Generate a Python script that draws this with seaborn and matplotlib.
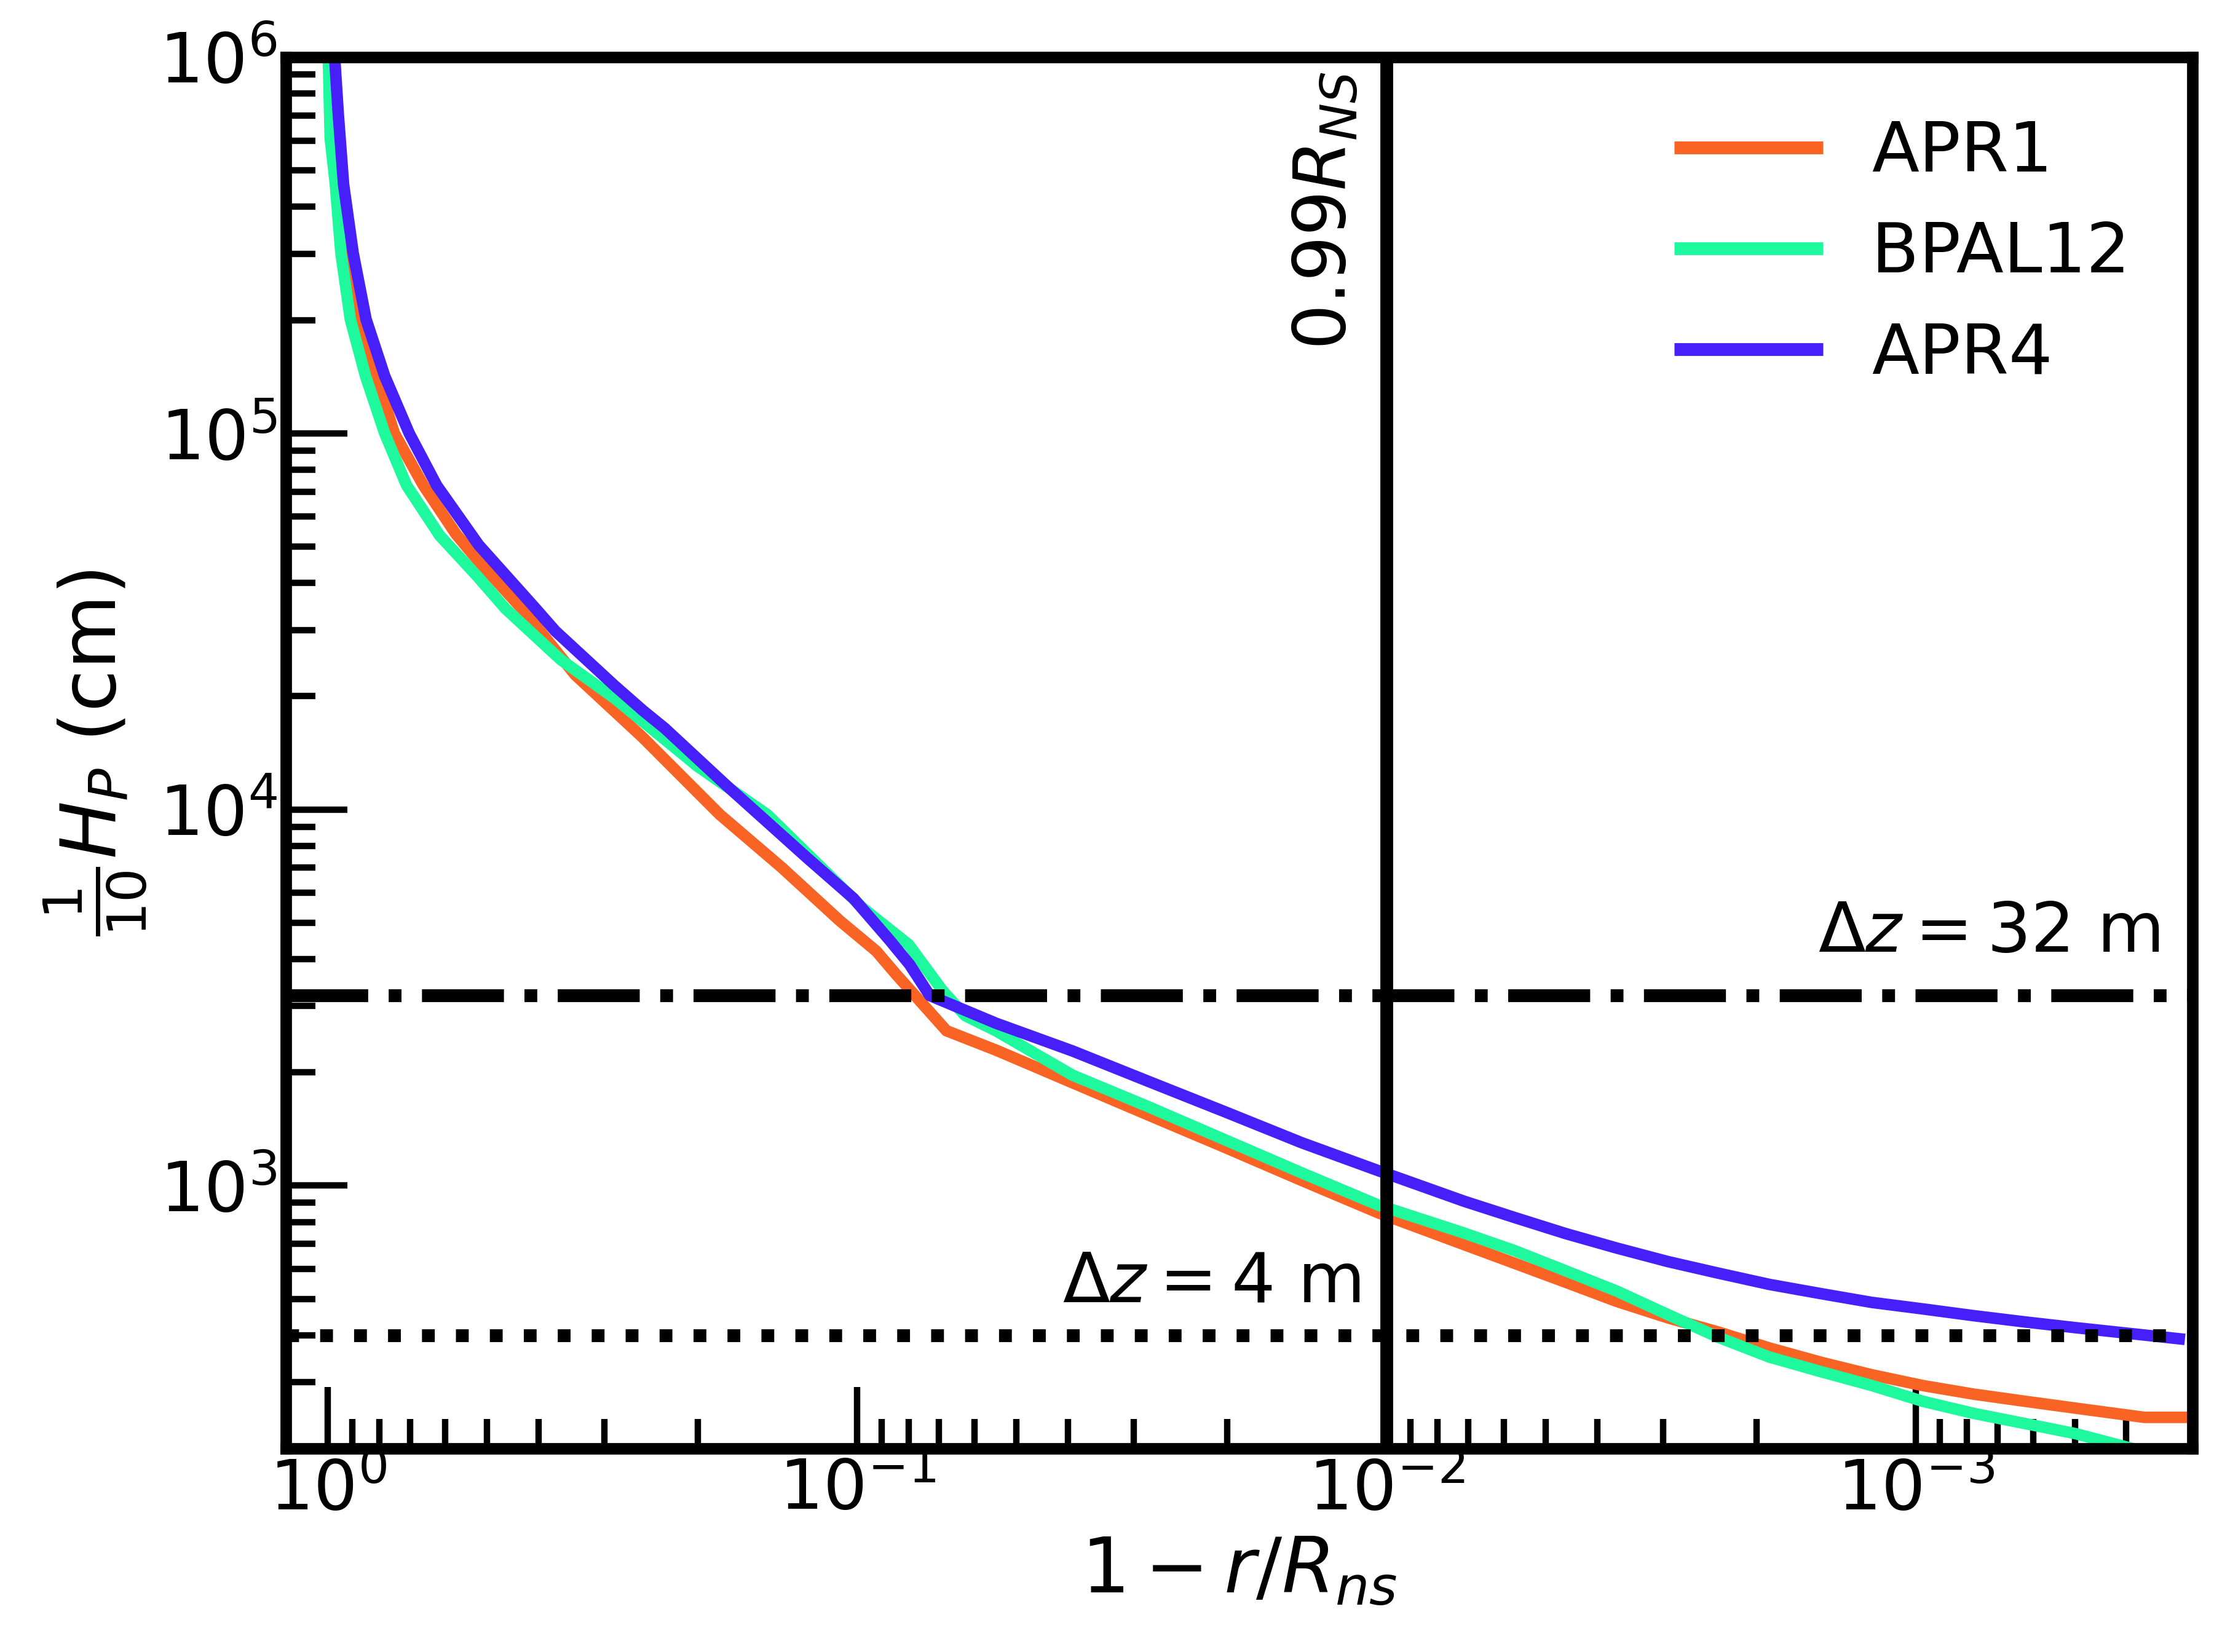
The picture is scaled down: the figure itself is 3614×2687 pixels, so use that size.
import numpy as np
import pandas as pd
import matplotlib
matplotlib.use("Agg")
import matplotlib.pyplot as plt
import seaborn as sns

# values (x = 1 - r/R_ns, y = H_P/10 in cm)
apr1_x = [0.984, 0.952, 0.92, 0.875, 0.81, 0.749, 0.66, 0.573, 0.519, 0.43,
          0.341, 0.2537, 0.1816, 0.1387, 0.1077, 0.092, 0.0845, 0.0678, 0.0546,
          0.0392, 0.0281, 0.0201, 0.01446, 0.01035, 0.00714, 0.00572, 0.00458,
          0.00367, 0.00294, 0.00236, 0.00189, 0.00151, 0.00121, 0.00097,
          0.000778, 0.000622, 0.000499, 0.00037, 0.0003]
apr1_y = [1.0e6, 4.59e5, 3.02e5, 2.01e5, 1.42e5, 1.0e5, 7.27e4, 5.4e4, 4.57e4, 3.42e4,
          2.28e4, 1.55e4, 9.68e3, 7.0e3, 5.05e3, 4.2e3, 3.65e3, 2.58e3, 2.29e3,
          1877, 1538, 1260, 1032, 846, 697, 621, 553,
          492, 445, 408, 370, 339, 314, 294,
          279, 267, 256, 242, 242]

bpal12_x = [0.998, 0.99, 0.968, 0.945, 0.907, 0.849, 0.781, 0.710, 0.615, 0.519,
            0.462, 0.363, 0.288, 0.200, 0.148, 0.0976, 0.0799, 0.069, 0.0625,
            0.0546, 0.0392, 0.0281, 0.0201, 0.01446, 0.01035, 0.00714, 0.00572,
            0.00458, 0.00367, 0.00294, 0.00236, 0.00189, 0.00151, 0.00121,
            0.00097, 0.000778, 0.000622, 0.000499, 0.00039, 0.00031]
bpal12_y = [1.0e6, 6.1e5, 4.59e5, 3.02e5, 2.01e5, 1.42e5, 1.0e5, 7.27e4, 5.35e4, 4.13e4,
            3.42e4, 2.50e4, 1.98e4, 1.30e4, 9.7e3, 5.47e3, 4.37e3, 3.3e3, 2.83e3,
            2576, 1966, 1618, 1320, 1081, 887, 748, 671,
            593, 524, 454, 395, 350, 320, 294,
            267, 248, 233, 219, 200, 188]

apr4_x = [0.971, 0.956, 0.934, 0.896, 0.847, 0.781, 0.702, 0.623, 0.519, 0.405,
          0.3717, 0.288, 0.2537, 0.231, 0.1773, 0.124, 0.1016, 0.0867, 0.0796,
          0.0729, 0.0546, 0.0392, 0.0281, 0.0201, 0.01446, 0.01035, 0.00714,
          0.00572, 0.00458, 0.00367, 0.00294, 0.00236, 0.00189, 0.00151,
          0.00121, 0.00097, 0.000778, 0.000622, 0.000499, 0.00031]
apr4_y = [1.0e6, 7.1e5, 4.59e5, 3.02e5, 2.01e5, 1.42e5, 1.0e5, 7.27e4, 5.05e4, 3.42e4,
          2.98e4, 2.14e4, 1.83e4, 1.644e4, 1.164e4, 7.41e3, 5.8e3, 4.48e3, 3.87e3,
          3.2e3, 2.70e3, 2.28e3, 1890, 1567, 1300, 1095, 909,
          822, 745, 682, 628, 585, 546, 516,
          489, 470, 451, 434, 419, 390]

eos_names = ["APR1", "BPAL12", "APR4"]
eos_colors = ["#F96324", "#1FF99E", "#461FFA"]

dz_levels = [3200, 400]          # 32 m and 4 m resolution
dz_labels = [r"$\Delta z = 32\ \mathrm{m}$", r"$\Delta z = 4\ \mathrm{m}$"]
r99 = 0.01                       # 0.99 R_NS

sns.set_style("white")
plt.rcParams["font.family"] = ["DejaVu Sans"]
plt.rcParams["mathtext.fontset"] = "dejavusans"
plt.rcParams["text.color"] = "black"
plt.rcParams["axes.labelcolor"] = "black"

fig = plt.figure(figsize=(3614 / 300, 2687 / 300), dpi=300)
ax = fig.add_axes([0.1287, 0.1232, 0.8580, 0.8422])

series = [(apr1_x, apr1_y), (bpal12_x, bpal12_y), (apr4_x, apr4_y)]
for (xs, ys), name, col in zip(series, eos_names, eos_colors):
    df = pd.DataFrame({"x": xs, "y": ys})
    sns.lineplot(data=df, x="x", y="y", ax=ax, color=col, lw=4.5,
                 label=name, sort=False, estimator=None,
                 solid_capstyle="butt", solid_joinstyle="round")

ax.set_xscale("log")
ax.set_yscale("log")
ax.set_xlim(1.2, 3.0e-4)
ax.set_ylim(200, 1e6)

ax.axvline(r99, color="k", lw=5)
ax.axhline(dz_levels[0], color="k", lw=5, ls="-.")
ax.axhline(dz_levels[1], color="k", lw=5, ls=":")

ax.text(3.46e-4, 3840, dz_labels[0], ha="right", va="bottom", fontsize=27)
ax.text(0.0112, 450, dz_labels[1], ha="right", va="bottom", fontsize=27)
ax.text(0.0112, 1.67e5, r"$0.99R_{NS}$", rotation=90, ha="right", va="bottom",
        fontsize=28)

ax.set_xlabel(r"$1-r/R_{ns}$", fontsize=30)
ax.set_ylabel(r"$\frac{1}{10}H_P$ (cm)", fontsize=30)

for side in ["left", "right", "top", "bottom"]:
    ax.spines[side].set_linewidth(4.5)
    ax.spines[side].set_color("k")

ax.tick_params(which="both", direction="in", top=False, right=False,
               left=True, bottom=True, width=2.5, colors="k",
               labelcolor="k", labelsize=27)
ax.tick_params(which="major", length=24)
ax.tick_params(which="minor", length=11.5)

leg = ax.legend(loc="upper right", frameon=False, fontsize=27,
                handlelength=2.15, handletextpad=0.7, labelspacing=0.5)
for line in leg.get_lines():
    line.set_linewidth(5)
    line.set_solid_capstyle("butt")

fig.savefig("out.png", dpi=300)
